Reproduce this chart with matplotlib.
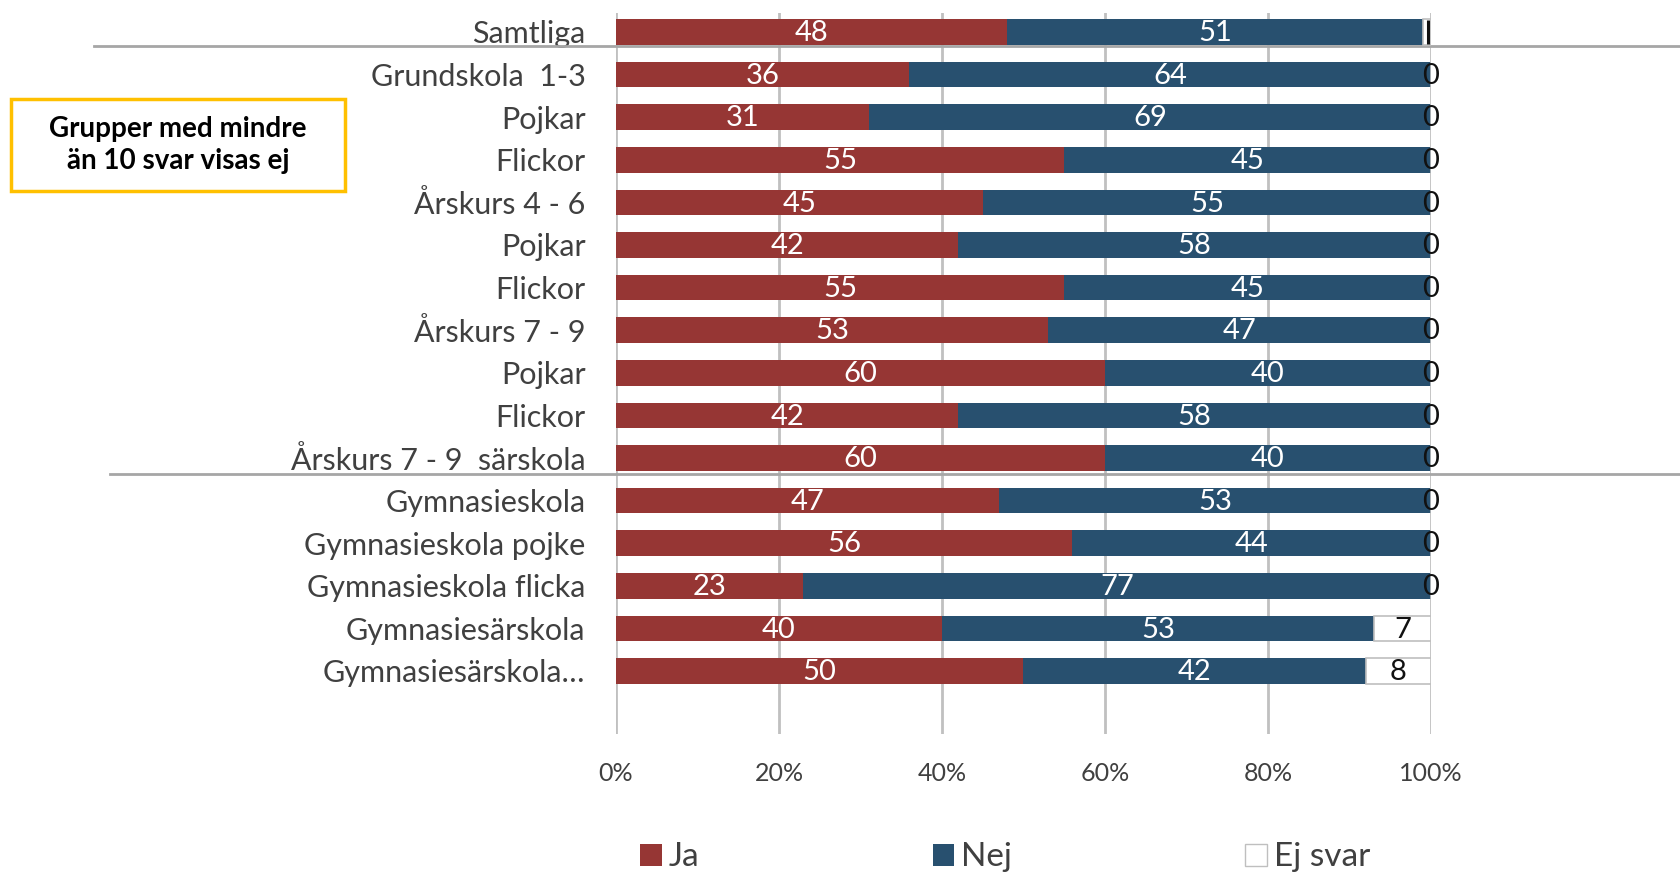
import matplotlib
matplotlib.use('Agg')
import matplotlib.pyplot as plt
from matplotlib.patches import Rectangle, Patch
import matplotlib.transforms as mtransforms
import numpy as np

plt.rcParams['font.family'] = ['Lato', 'DejaVu Sans']

categories = ['Samtliga', 'Grundskola  1-3', 'Pojkar', 'Flickor', 'Årskurs 4 - 6',
              'Pojkar', 'Flickor', 'Årskurs 7 - 9', 'Pojkar', 'Flickor',
              'Årskurs 7 - 9  särskola', 'Gymnasieskola', 'Gymnasieskola pojke',
              'Gymnasieskola flicka', 'Gymnasiesärskola', 'Gymnasiesärskola…']
ja = [48, 36, 31, 55, 45, 42, 55, 53, 60, 42, 60, 47, 56, 23, 40, 50]
nej = [51, 64, 69, 45, 55, 58, 45, 47, 40, 58, 40, 53, 44, 77, 53, 42]
ej_svar = [1, 0, 0, 0, 0, 0, 0, 0, 0, 0, 0, 0, 0, 0, 7, 8]

ticks = [0, 20, 40, 60, 80, 100]
tick_labels = ['0%', '20%', '40%', '60%', '80%', '100%']

red = '#963634'
blue = '#28506f'
txt = '#404040'

fig = plt.figure(figsize=(16.81, 8.75), dpi=100)
ax = fig.add_axes([616/1681, 1-734/875, (1431-616)/1681, 721/875])

y = np.arange(len(categories))
ja = np.array(ja, dtype=float)
nej = np.array(nej, dtype=float)
ej = np.array(ej_svar, dtype=float)

h = 0.6
ax.barh(y, ja, height=h, color=red, zorder=3)
ax.barh(y, nej, left=ja, height=h, color=blue, zorder=3)
ax.barh(y, ej, left=ja + nej, height=h, color='white', edgecolor='#bfbfbf',
        linewidth=1.2, zorder=3)

for i in range(len(categories)):
    ax.text(ja[i] / 2, y[i] + 0.03, '%d' % ja[i], color='white', ha='center',
            va='center', fontsize=21, zorder=4)
    ax.text(ja[i] + nej[i] / 2, y[i] + 0.03, '%d' % nej[i], color='white', ha='center',
            va='center', fontsize=21, zorder=4)
    if ej[i] == 1:
        # etiketten "1" ser ut som ett smalt streck i originalet
        ax.plot([ja[i] + nej[i] + 0.6] * 2, [y[i] - 0.28, y[i] + 0.28], color='#111111',
                lw=2.2, zorder=5, solid_capstyle='butt')
    else:
        ax.text(ja[i] + nej[i] + ej[i] / 2, y[i] + 0.03, '%d' % ej[i], color='#111111',
                ha='center', va='center', fontsize=21, zorder=4)

ax.set_xlim(0, 100)
ax.set_ylim(16.48, -0.446)
ax.set_yticks(y)
ax.set_yticklabels(categories, fontsize=22, color=txt)
ax.set_xticks(ticks)
ax.set_xticklabels(tick_labels, fontsize=18, color=txt)
ax.tick_params(axis='both', length=0)
ax.tick_params(axis='y', pad=22)
ax.tick_params(axis='x', pad=20)
ax.grid(axis='x', color='#c0c0c0', linewidth=2, zorder=0)
for s in ax.spines.values():
    s.set_visible(False)

# separatorlinjer mellan grupperna
trans = mtransforms.blended_transform_factory(fig.transFigure, ax.transData)
ax.plot([94/1681, 1], [0.33, 0.33], transform=trans, color='#a6a6a6', lw=2,
        clip_on=False, zorder=2)
ax.plot([110/1681, 1], [10.37, 10.37], transform=trans, color='#a6a6a6', lw=2,
        clip_on=False, zorder=2)

# rutan till vänster
fig.patches.append(Rectangle((11/1681, 1-191/875), 334/1681, 92/875,
                             transform=fig.transFigure, facecolor='white',
                             edgecolor='#ffc000', linewidth=2.5))
fig.text(178/1681, 1-145/875, 'Grupper med mindre\nän 10 svar visas ej', ha='center',
         va='center', fontsize=20, fontweight='bold', color='black', linespacing=1.3)

handles = [Patch(facecolor=red), Patch(facecolor=blue),
           Patch(facecolor='white', edgecolor='#bfbfbf')]
fig.legend(handles, ['Ja', 'Nej', 'Ej svar'], loc='center', bbox_to_anchor=(0.598, 0.02),
           ncol=3, frameon=False, fontsize=24, handlelength=0.65, handleheight=0.65,
           handletextpad=0.2, columnspacing=7.0, labelcolor=txt)

plt.savefig('out.png', dpi=100)
